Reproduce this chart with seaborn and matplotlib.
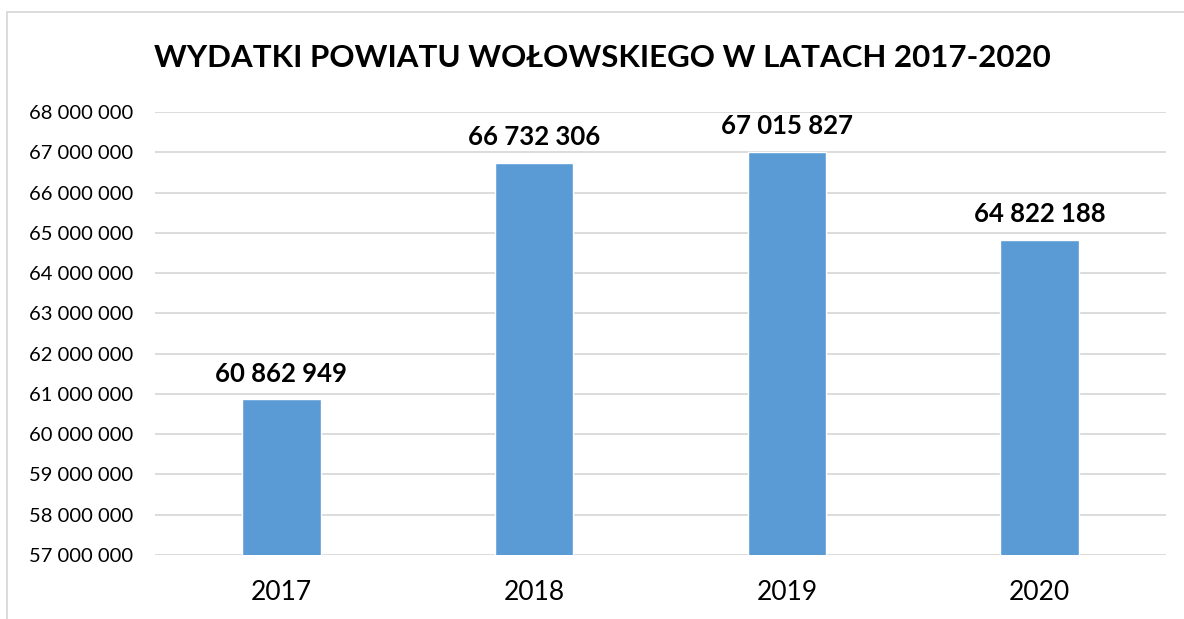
import pandas as pd
import matplotlib.pyplot as plt
import seaborn as sns
from matplotlib.patches import Rectangle
from matplotlib.ticker import FuncFormatter, MultipleLocator

# Wydatki powiatu wołowskiego
years = ["2017", "2018", "2019", "2020"]
expenses = [60862949, 66732306, 67015827, 64822188]

df = pd.DataFrame({"rok": years, "wydatki": expenses})

sns.set_theme(style="white")
plt.rcParams['font.family'] = ['Lato', 'DejaVu Sans']

fig = plt.figure(figsize=(11.84, 6.19), dpi=100)
ax = fig.add_axes([155 / 1184, 1 - 555 / 619, (1166 - 155) / 1184, (555 - 112) / 619])

sns.barplot(data=df, x="rok", y="wydatki", color="#5B9BD5", saturation=1,
            width=0.31, ax=ax, zorder=3)

def spaced(v):
    return f"{int(round(v)):,}".replace(",", " ")

ax.set_ylim(57_000_000, 68_000_000)
ax.yaxis.set_major_locator(MultipleLocator(1_000_000))
ax.yaxis.set_major_formatter(FuncFormatter(lambda v, p: spaced(v)))
ax.grid(axis="y", color="#D9D9D9", linewidth=1.3, zorder=0)
ax.set_axisbelow(True)
for s in ax.spines.values():
    s.set_visible(False)
ax.set_xlabel("")
ax.set_ylabel("")
ax.tick_params(axis="y", labelsize=14.5, pad=16, length=0, labelcolor="black")
ax.tick_params(axis="x", labelsize=19, pad=18, length=0, labelcolor="black")

ax.bar_label(ax.containers[0], labels=[spaced(v) for v in expenses],
             padding=10, fontsize=18.5, fontweight="bold", color="black")

fig.text(602 / 1184, 1 - 58 / 619, "WYDATKI POWIATU WOŁOWSKIEGO W LATACH 2017-2020",
         ha="center", va="center", fontsize=22.5, fontweight="bold", color="black")

# ramka wykresu
fig.add_artist(Rectangle((7 / 1184, -0.1), 1.2, 1.1 - 12 / 619,
                         transform=fig.transFigure, fill=False,
                         edgecolor="#D9D9D9", linewidth=1.3))

fig.savefig("out.png", dpi=100)
